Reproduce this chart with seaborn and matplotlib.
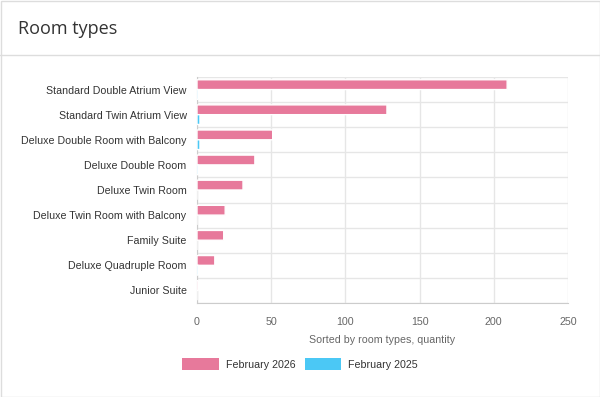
import matplotlib
matplotlib.use("Agg")
import matplotlib.pyplot as plt
import seaborn as sns
import pandas as pd
import numpy as np
from matplotlib.patches import Rectangle, Patch
from matplotlib.lines import Line2D

# Values
ROOM_TYPES = [
    "Standard Double Atrium View",
    "Standard Twin Atrium View",
    "Deluxe Double Room with Balcony",
    "Deluxe Double Room",
    "Deluxe Twin Room",
    "Deluxe Twin Room with Balcony",
    "Family Suite",
    "Deluxe Quadruple Room",
    "Junior Suite",
]
FEB_2026 = [209, 128, 51, 39, 31, 19, 18, 12, 1]
FEB_2025 = [1, 2, 2, 1, 0, 0, 0, 1, 0]
SERIES = ["February 2026", "February 2025"]
COLORS = ["#e7799b", "#4bc8f5"]
X_TICKS = [0, 50, 100, 150, 200, 250]

df = pd.DataFrame({
    "room": ROOM_TYPES * 2,
    "qty": FEB_2026 + FEB_2025,
    "period": [SERIES[0]] * len(ROOM_TYPES) + [SERIES[1]] * len(ROOM_TYPES),
})

sns.set_style("white")
plt.rcParams["font.family"] = ["Liberation Sans", "DejaVu Sans"]
FS = 7.7

fig = plt.figure(figsize=(6, 3.97), dpi=100)
W, H = 600, 397

# card frame and header separator
fig.add_artist(Rectangle((0.5 / W, 0.5 / H), 599 / W, 396 / H, transform=fig.transFigure,
                         fill=False, edgecolor="#dddddd", linewidth=1))
fig.add_artist(Line2D([0, 1], [1 - 55 / H, 1 - 55 / H], transform=fig.transFigure,
                      color="#dddddd", linewidth=1))
fig.text(18 / W, 1 - 29 / H, "Room types", fontsize=13, color="#333333",
         family=["Open Sans", "DejaVu Sans"], va="center", ha="left")

ax = fig.add_axes([197 / W, 1 - 303 / H, 371 / W, 226 / H])
sns.barplot(data=df, y="room", x="qty", hue="period", orient="h",
            palette=COLORS, width=0.78, ax=ax, legend=False, saturation=1)
# keep the tiny bars visible above the left axis line
for bar in ax.patches:
    bar.set_zorder(3)
    bar.set_snap(False)

ax.set_xlim(0, 250)
ax.set_ylim(len(ROOM_TYPES) - 0.5, -0.5)
ax.set_xticks(X_TICKS)
ax.set_xticklabels([str(t) for t in X_TICKS], fontsize=FS, color="#666666")
ax.set_yticks(range(len(ROOM_TYPES)))
ax.set_yticklabels(ROOM_TYPES, fontsize=FS, color="#333333")
ax.set_yticks(np.arange(-0.5, len(ROOM_TYPES)), minor=True)
ax.tick_params(axis="y", which="major", length=0, pad=7.5)
ax.tick_params(axis="y", which="minor", length=6, color="#e6e6e6")
ax.tick_params(axis="x", which="major", length=6, color="#e6e6e6", pad=4)
ax.grid(axis="x", color="#e6e6e6", linewidth=1)
ax.grid(axis="y", which="minor", color="#e6e6e6", linewidth=1)
ax.set_axisbelow(True)
ax.set_ylabel("")
ax.set_xlabel("Sorted by room types, quantity", fontsize=FS, color="#666666", labelpad=6)
for side in ["top", "right"]:
    ax.spines[side].set_visible(False)
ax.spines["left"].set_color("#cccccc")
ax.spines["bottom"].set_color("#cccccc")

handles = [Patch(facecolor=c, edgecolor="none") for c in COLORS]
fig.legend(handles, SERIES, loc="center", bbox_to_anchor=(300 / W, 1 - 364 / H), ncol=2,
           frameon=False, fontsize=FS, handlelength=3.4, handleheight=1.35,
           columnspacing=0.9, handletextpad=0.65, labelcolor="#333333")

fig.savefig("out.png", dpi=100)
